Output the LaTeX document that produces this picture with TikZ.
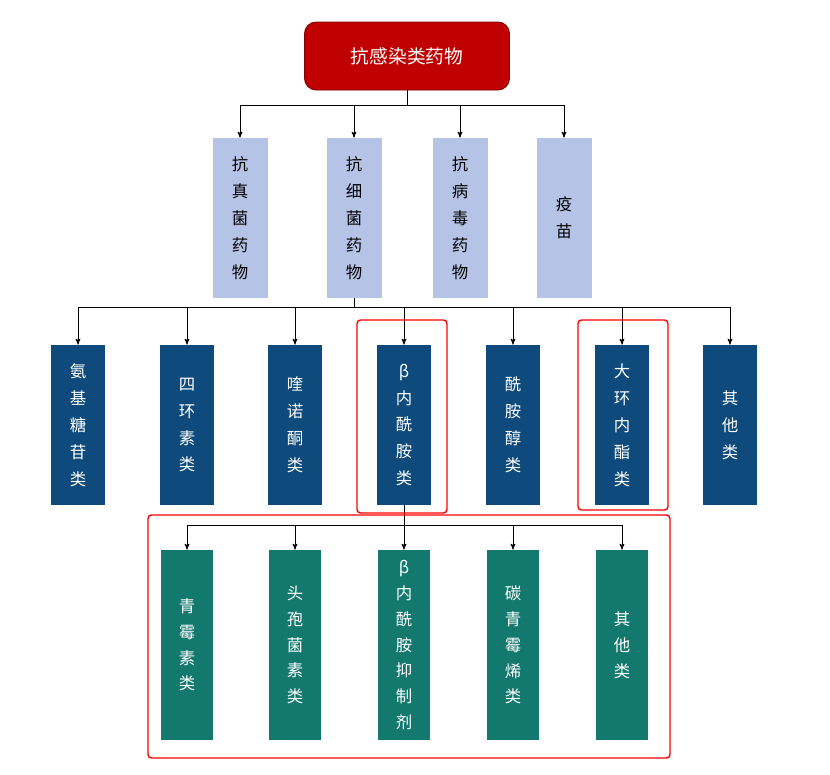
\documentclass[tikz,border=0pt]{standalone}
\usepackage{fontspec}
\setmainfont{Noto Sans CJK SC}
\usetikzlibrary{positioning,arrows}
\definecolor{topred}{HTML}{C00000}
\definecolor{lightblue}{HTML}{B4C3E6}
\definecolor{darkblue}{HTML}{0E4A7C}
\definecolor{tealgreen}{HTML}{13796F}
\begin{document}
\begin{tikzpicture}[x=0.03cm,y=-0.03cm, >=stealth', line width=0.8pt,
	topnode/.style={rectangle,rounded corners=10pt,fill=topred,draw=topred!70!black,text=white,minimum width=6.15cm,minimum height=2.04cm,font=\fontsize{16}{20}\selectfont},
	kindnode/.style={rectangle,fill=lightblue,minimum width=1.65cm,minimum height=4.8cm,align=center,font=\fontsize{14}{23}\selectfont},
	drugnode/.style={rectangle,fill=darkblue,text=white,minimum width=1.62cm,minimum height=4.8cm,align=center,font=\fontsize{14}{23}\selectfont},
	subnode/.style={rectangle,fill=tealgreen,text=white,minimum width=1.56cm,minimum height=5.7cm,align=center,font=\fontsize{14}{22}\selectfont},
	redframe/.style={draw=red,line width=1.2pt,rounded corners=3pt}]
	\useasboundingbox[fill=white] (0,0) rectangle (830,775);
	\node[topnode] (top) at (407,56) {抗感染类药物};
	% second level
	\node[kindnode] (k1) at (240,218) {抗\\真\\菌\\药\\物};
	\node[kindnode] (k2) at (354,218) {抗\\细\\菌\\药\\物};
	\node[kindnode] (k3) at (460,218) {抗\\病\\毒\\药\\物};
	\node[kindnode] (k4) at (564,218) {疫\\苗};
	% third level
	\node[drugnode] (d1) at (78,425) {氨\\基\\糖\\苷\\类};
	\node[drugnode] (d2) at (187,425) {四\\环\\素\\类};
	\node[drugnode] (d3) at (295,425) {喹\\诺\\酮\\类};
	\node[drugnode] (d4) at (404,425) {β\\内\\酰\\胺\\类};
	\node[drugnode] (d5) at (513,425) {酰\\胺\\醇\\类};
	\node[drugnode] (d6) at (622,425) {大\\环\\内\\酯\\类};
	\node[drugnode] (d7) at (730,425) {其\\他\\类};
	% fourth level
	\node[subnode] (s1) at (187,645) {青\\霉\\素\\类};
	\node[subnode] (s2) at (295,645) {头\\孢\\菌\\素\\类};
	\node[subnode] (s3) at (404,645) {β\\内\\酰\\胺\\抑\\制\\剂};
	\node[subnode] (s4) at (513,645) {碳\\青\\霉\\烯\\类};
	\node[subnode] (s5) at (622,645) {其\\他\\类};
	% connectors
	\coordinate (b1) at (407,105);
	\draw (top.south) -- (b1);
	\draw (240,105) -- (564,105);
	\foreach \k in {k1,k2,k3,k4} \draw[->] (\k.north |- b1) -- (\k.north);
	\coordinate (b2) at (354,307);
	\draw (k2.south) -- (b2);
	\draw (78,307) -- (730,307);
	\foreach \d in {d1,d2,d3,d4,d5,d6,d7} \draw[->] (\d.north |- b2) -- (\d.north);
	\coordinate (b3) at (404,525);
	\draw (d4.south) -- (b3);
	\draw (187,525) -- (622,525);
	\foreach \s in {s1,s2,s3,s4,s5} \draw[->] (\s.north |- b3) -- (\s.north);
	% highlight frames
	\draw[redframe] (357,320) rectangle (447,513);
	\draw[redframe] (578,320) rectangle (668,510);
	\draw[redframe] (148,515) rectangle (670,758);
\end{tikzpicture}
\end{document}
